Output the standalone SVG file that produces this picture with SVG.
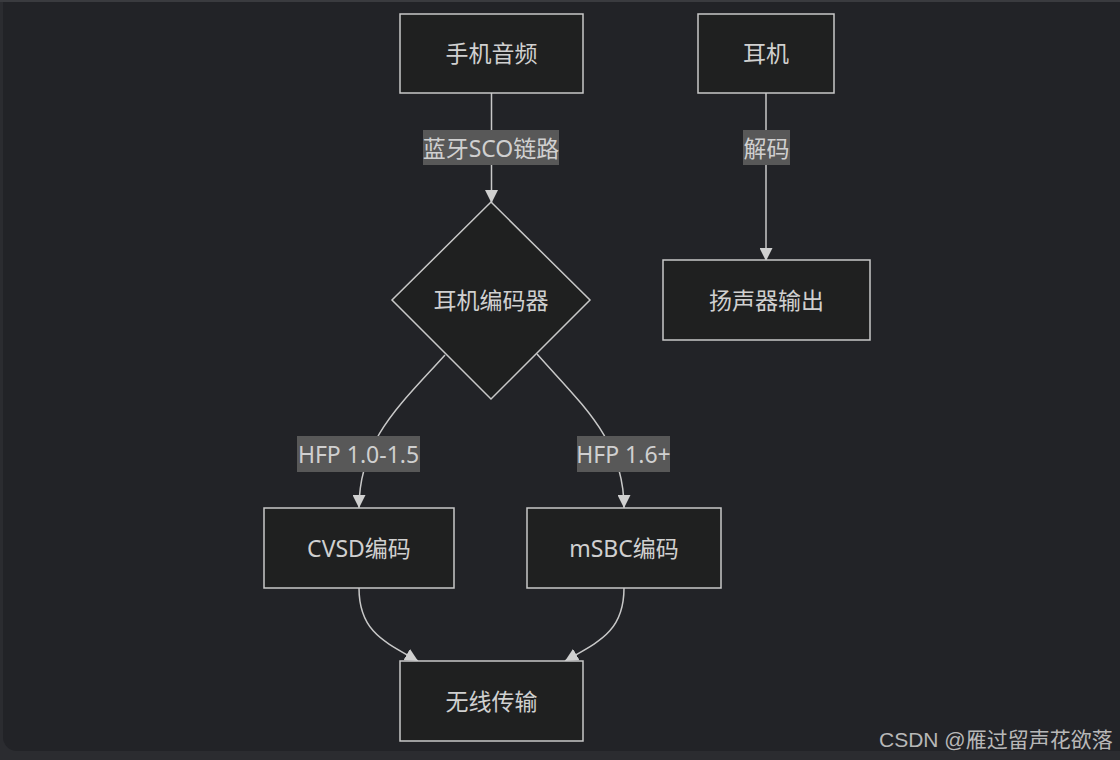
<svg xmlns="http://www.w3.org/2000/svg" width="1120" height="760" viewBox="0 0 1120 760">
<defs>
<style>
.node{fill:#1f2020;stroke:#c8c8c8;stroke-width:1.5}
.t{font-family:"Noto Sans","Noto Sans CJK SC",sans-serif;font-size:23px;fill:#d0d0d0;text-anchor:middle;dominant-baseline:central}
.edge{fill:none;stroke:#c8c8c8;stroke-width:1.5}
.lbl{fill:#585858}
.wm{font-family:"Liberation Sans","Noto Sans CJK SC",sans-serif;font-size:21px;fill:#b8b8b8}
</style>
<marker id="ah" viewBox="0 0 10 10" refX="10" refY="5" markerUnits="userSpaceOnUse" markerWidth="13" markerHeight="13" orient="auto">
<path d="M0,0 L10,5 L0,10 z" fill="#d0d0d0"/>
</marker>
</defs>
<rect x="0" y="0" width="1120" height="760" fill="#2b2c30"/>
<rect x="3" y="0" width="1117" height="751" rx="14" fill="#222327"/>
<rect x="3" y="0" width="1117" height="14" fill="#222327"/>
<rect x="1100" y="700" width="20" height="51" fill="#222327"/>
<rect x="0" y="0" width="1120" height="2" fill="#3a3b3f"/>

<g id="connectors">
<path class="edge" d="M491.5,93 L491.5,203" marker-end="url(#ah)"/>
<path class="edge" d="M766,93 L766,261" marker-end="url(#ah)"/>
<path class="edge" d="M445,355 C400,405 359,440 359,508" marker-end="url(#ah)"/>
<path class="edge" d="M537,354 C582,405 624,440 624,508" marker-end="url(#ah)"/>
<path class="edge" d="M359,588 C359,632 385,642 418,661" marker-end="url(#ah)"/>
<path class="edge" d="M624,588 C624,632 598,642 565,661" marker-end="url(#ah)"/>
<g id="label-sco"><rect class="lbl" x="423" y="130" width="136" height="35"/><text class="t" x="491" y="148">蓝牙SCO链路</text></g>
<g id="label-decode"><rect class="lbl" x="743" y="130" width="47" height="35"/><text class="t" x="766.5" y="148">解码</text></g>
<g id="label-hfp15"><rect class="lbl" x="297" y="436" width="123" height="36"/><text class="t" x="358.5" y="454">HFP 1.0-1.5</text></g>
<g id="label-hfp16"><rect class="lbl" x="577" y="436" width="93" height="36"/><text class="t" x="623.5" y="454">HFP 1.6+</text></g>
</g>

<g id="phone-audio"><rect class="node" x="400" y="14" width="183" height="79"/><text class="t" x="491.5" y="53">手机音频</text></g>
<g id="earphone"><rect class="node" x="698" y="14" width="136" height="79"/><text class="t" x="766" y="53">耳机</text></g>
<g id="codec"><polygon class="node" points="491,202 590,300 491,399 392,300"/><text class="t" x="491" y="300">耳机编码器</text></g>
<g id="speaker"><rect class="node" x="663" y="260" width="207" height="80"/><text class="t" x="766.5" y="300">扬声器输出</text></g>
<g id="cvsd"><rect class="node" x="264" y="508" width="190" height="80"/><text class="t" x="359" y="548">CVSD编码</text></g>
<g id="msbc"><rect class="node" x="527" y="508" width="194" height="80"/><text class="t" x="624" y="548">mSBC编码</text></g>
<g id="wireless"><rect class="node" x="400" y="661" width="183" height="80"/><text class="t" x="491.5" y="701">无线传输</text></g>

<text class="wm" x="879" y="747">CSDN @雁过留声花欲落</text>
</svg>
